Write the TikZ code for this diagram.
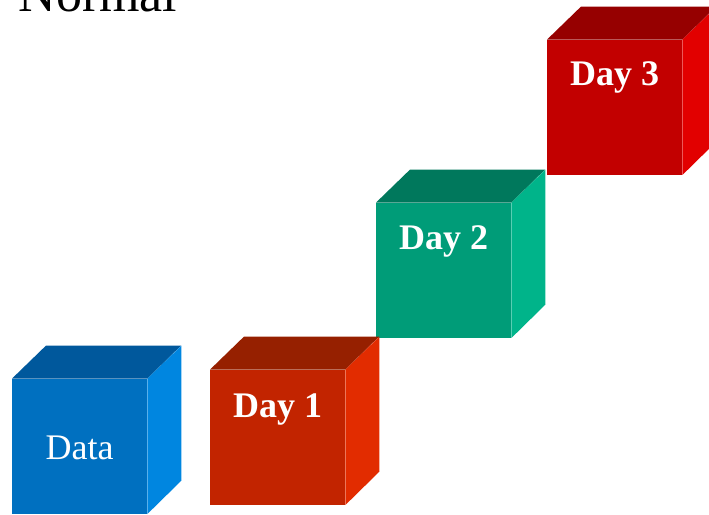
\documentclass[tikz,border=0pt]{standalone}
\usepackage{fontspec}
\setmainfont{Liberation Serif}
\usepackage{tikz}
\usetikzlibrary{positioning}
\definecolor{datafront}{RGB}{0,112,192}
\definecolor{datatop}{RGB}{0,88,156}
\definecolor{dataside}{RGB}{0,134,224}
\definecolor{onefront}{RGB}{194,36,0}
\definecolor{onetop}{RGB}{150,32,0}
\definecolor{oneside}{RGB}{226,44,0}
\definecolor{twofront}{RGB}{0,156,120}
\definecolor{twotop}{RGB}{0,120,92}
\definecolor{twoside}{RGB}{0,180,138}
\definecolor{threefront}{RGB}{194,0,0}
\definecolor{threetop}{RGB}{150,0,0}
\definecolor{threeside}{RGB}{226,0,0}

\begin{document}
\begin{tikzpicture}[x=1pt,y=1pt,
  face/.style={rectangle,inner sep=0pt,minimum size=135pt,anchor=south west},
  lbl/.style={text=white,anchor=base,font=\fontsize{36}{40}\selectfont\bfseries},
  title/.style={anchor=base west,font=\fontsize{52}{60}\selectfont}
]
\useasboundingbox (0,0) rectangle (709,514);

% heading, cut by the page edge
\node[title] (head) at (15,502) {Normal};

% front faces
\node[face,fill=datafront] (data) at (12,0) {};
\node[face,fill=onefront] (day1) at (210,9) {};
\node[face,fill=twofront] (day2) at (376,176) {};
\node[face,fill=threefront] (day3) at (547,339) {};

% top and right side of each box
\foreach \b/\ctop/\cside in {data/datatop/dataside, day1/onetop/oneside,
    day2/twotop/twoside, day3/threetop/threeside} {
  \fill[\ctop] (\b.north west) -- ++(34,33) -- ++(135,0) -- (\b.north east) -- cycle;
  \fill[\cside] (\b.north east) -- ++(34,33) -- ++(0,-135) -- (\b.south east) -- cycle;
}

% the texts
\node[lbl,font=\fontsize{36}{40}\selectfont] (datat) at ([yshift=-81pt]data.north) {Data};
\node[lbl] (day1t) at ([yshift=-48pt]day1.north) {Day 1};
\node[lbl] (day2t) at ([yshift=-47pt]day2.north) {Day 2};
\node[lbl] (day3t) at ([yshift=-46pt]day3.north) {Day 3};
\end{tikzpicture}
\end{document}
